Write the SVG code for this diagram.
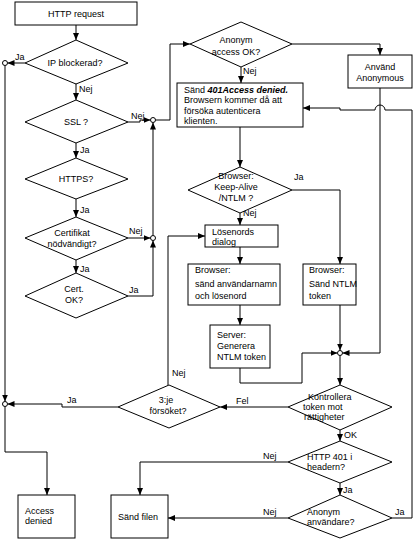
<svg xmlns="http://www.w3.org/2000/svg" width="415" height="541" viewBox="0 0 415 541">
<defs>
<style>
.b{fill:#fff;stroke:#000;stroke-width:1}
.l{fill:none;stroke:#000;stroke-width:1}
.j{fill:#fff;stroke:#000;stroke-width:1}
text{font-family:"Liberation Sans",Arial,sans-serif;font-size:9px;fill:#000}
.c{text-anchor:middle}
.bi{font-weight:bold;font-style:italic}
</style>
<marker id="a" markerWidth="7" markerHeight="6" refX="7" refY="3" orient="auto" markerUnits="userSpaceOnUse">
<path d="M0,0 L7,3 L0,6 z" fill="#000"/>
</marker>
</defs>
<rect width="415" height="541" fill="#fff"/>
<g id="connectors" class="l" marker-end="url(#a)">
<path d="M76,25 V40"/>
<path d="M25,63 H7.5"/>
<path d="M5,65.5 V401.5"/>
<path d="M5,406.5 V452 H47 V495"/>
<path d="M76,83 V100"/>
<path d="M128,122 H140 V120 H150.5"/>
<path d="M155.5,120 H170 V44 H190"/>
<path d="M153,235.5 V122.5"/>
<path d="M128,238 H150.5"/>
<path d="M128,296 H153 V240.5"/>
<path d="M76,143 V158"/>
<path d="M76,199 V217"/>
<path d="M76,260 V273"/>
<path d="M292,44 H380 V55"/>
<path d="M241,67 V83"/>
<path d="M240,127 V167"/>
<path d="M292,190 H340 V264"/>
<path d="M240,213 V225"/>
<path d="M240,247 V264"/>
<path d="M240,305 V325"/>
<path d="M240,368 V383 H302 V353 H337.5"/>
<path d="M340,305 V350.5"/>
<path d="M380,88 V353 H342.5"/>
<path d="M340,355.5 V385"/>
<path d="M288,407 H220"/>
<path d="M118,407 H62 V404 H7.5"/>
<path d="M168,385 V236 H205"/>
<path d="M340,430 V441"/>
<path d="M288,462 H140 V495"/>
<path d="M340,483 V495"/>
<path d="M288,518 H168"/>
<path d="M392,518 H412 V110 H385 A5,5 0 0 0 375,110 H340 V108 H303"/>
</g>
<g id="junctions">
<circle class="j" cx="5" cy="63" r="2.5"/>
<circle class="j" cx="5" cy="404" r="2.5"/>
<circle class="j" cx="153" cy="120" r="2.5"/>
<circle class="j" cx="153" cy="238" r="2.5"/>
<circle class="j" cx="340" cy="353" r="2.5"/>
</g>
<g id="labels">
<text x="15" y="60">Ja</text>
<text x="79" y="92">Nej</text>
<text x="131" y="119">Nej</text>
<text x="80" y="153">Ja</text>
<text x="80" y="213">Ja</text>
<text x="129" y="234">Nej</text>
<text x="80" y="272">Ja</text>
<text x="129" y="293">Ja</text>
<text x="243" y="74">Nej</text>
<text x="294" y="180">Ja</text>
<text x="243" y="216">Nej</text>
<text x="172" y="376">Nej</text>
<text x="67" y="403">Ja</text>
<text x="236" y="404">Fel</text>
<text x="344" y="438">OK</text>
<text x="263" y="459">Nej</text>
<text x="343" y="493">Ja</text>
<text x="263" y="515">Nej</text>
<text x="395" y="515">Ja</text>
</g>
<g id="http-request"><rect class="b" x="15" y="2" width="122" height="23"/><text class="c" x="76" y="17">HTTP request</text></g>
<g id="ip-blockerad"><polygon class="b" points="76,40 128,63 76,84 25,63"/><text class="c" x="75" y="66">IP blockerad?</text></g>
<g id="ssl"><polygon class="b" points="76,100 128,122 76,143 25,122"/><text class="c" x="76" y="125">SSL ?</text></g>
<g id="https"><polygon class="b" points="76,158 128,179 76,199 25,179"/><text class="c" x="76" y="182">HTTPS?</text></g>
<g id="certifikat"><polygon class="b" points="76,217 128,238 76,260 25,238"/><text class="c" x="72" y="236">Certifikat</text><text class="c" x="72" y="247">nödvändigt?</text></g>
<g id="cert-ok"><polygon class="b" points="76,273 128,296 76,318 25,296"/><text class="c" x="74" y="292">Cert.</text><text class="c" x="74" y="303">OK?</text></g>
<g id="anonym-access"><polygon class="b" points="241,22 292,44 241,67 190,44"/><text class="c" x="236" y="43">Anonym</text><text class="c" x="236" y="55">access OK?</text></g>
<g id="anvand-anonymous"><rect class="b" x="348" y="55" width="64" height="33"/><text class="c" x="380" y="70">Använd</text><text class="c" x="380" y="81">Anonymous</text></g>
<g id="sand-401"><rect class="b" x="177" y="83" width="126" height="44"/><text x="184" y="92.5">Sänd <tspan class="bi">401Access denied.</tspan></text><text x="184" y="103">Browsern kommer då att</text><text x="184" y="113.5">försöka autenticera</text><text x="184" y="124">klienten.</text></g>
<g id="keep-alive"><polygon class="b" points="240,167 292,190 240,213 188,190"/><text class="c" x="236" y="179">Browser:</text><text class="c" x="236" y="190">Keep-Alive</text><text class="c" x="236" y="201">/NTLM ?</text></g>
<g id="losenords-dialog"><rect class="b" x="205" y="225" width="73" height="22"/><text x="212" y="235">Lösenords</text><text x="212" y="245">dialog</text></g>
<g id="browser-sand"><rect class="b" x="188" y="264" width="92" height="41"/><text x="195" y="273">Browser:</text><text x="195" y="287">sänd användarnamn</text><text x="195" y="299">och lösenord</text></g>
<g id="browser-ntlm"><rect class="b" x="303" y="264" width="53" height="41"/><text x="309" y="273">Browser:</text><text x="309" y="287">Sänd NTLM</text><text x="309" y="299">token</text></g>
<g id="server"><rect class="b" x="210" y="325" width="60" height="43"/><text x="217" y="338">Server:</text><text x="217" y="349">Generera</text><text x="217" y="360">NTLM token</text></g>
<g id="kontrollera"><polygon class="b" points="340,385 392,407 340,430 288,407"/><text x="308" y="400">Kontrollera</text><text x="303" y="410">token mot</text><text x="304" y="420">rättigheter</text></g>
<g id="tredje-forsoket"><polygon class="b" points="169,385 220,407 169,428 118,407"/><text class="c" x="166" y="403">3:je</text><text class="c" x="168" y="414">försöket?</text></g>
<g id="http-401"><polygon class="b" points="340,441 392,462 340,483 288,462"/><text x="307" y="460">HTTP 401 i</text><text x="307" y="470">headern?</text></g>
<g id="anonym-anvandare"><polygon class="b" points="340,495 392,518 340,538 288,518"/><text x="307" y="515">Anonym</text><text x="307" y="525">användare?</text></g>
<g id="access-denied"><rect class="b" x="18" y="495" width="57" height="43"/><text x="25" y="514">Access</text><text x="25" y="524">denied</text></g>
<g id="sand-filen"><rect class="b" x="111" y="495" width="57" height="43"/><text x="118" y="520">Sänd filen</text></g>
</svg>
